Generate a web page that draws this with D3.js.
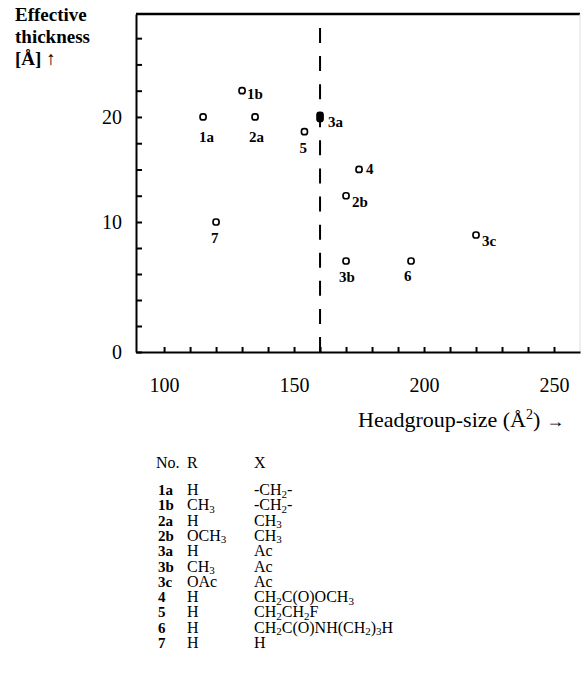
<!DOCTYPE html>
<html>
<head>
<meta charset="utf-8">
<script src="https://cdn.jsdelivr.net/npm/d3@7"></script>
<style>
  body { margin: 0; background: #fff; }
  text { font-family: 'Liberation Serif', 'Times New Roman', serif; fill: #000; }
</style>
</head>
<body>
<script>
// compounds plotted (id, headgroup size in A^2, effective thickness in A)
const pointIds = ['1a', '1b', '2a', '2b', '3a', '3b', '3c', '4', '5', '6', '7'];
const headgroupSize = [115, 130, 135, 170, 160, 170, 220, 175, 154, 195, 120];
const thickness = [20, 22.5, 20, 12.5, 20, 7, 9, 15, 18.6, 7, 10];

// axis ticks
const xTickLabels = [100, 150, 200, 250];
const xMinorTicks = [100, 110, 120, 130, 140, 150, 160, 170, 180, 190, 200, 210, 220, 230, 240, 250];
const yTickLabels = [0, 10, 20];
const yMinorTicks = [0, 2, 4, 6, 8, 10, 12.5, 15, 17.5, 20, 22.5, 25, 27.5];
const criticalSize = 160;

// table below the chart ('_x' = subscript x)
const compoundNo = ['1a', '1b', '2a', '2b', '3a', '3b', '3c', '4', '5', '6', '7'];
const groupR = ['H', 'CH_3', 'H', 'OCH_3', 'H', 'CH_3', 'OAc', 'H', 'H', 'H', 'H'];
const groupX = ['-CH_2-', '-CH_2-', 'CH_3', 'CH_3', 'Ac', 'Ac', 'Ac',
                'CH_2C(O)OCH_3', 'CH_2CH_2F', 'CH_2C(O)NH(CH_2)_3H', 'H'];

const data = pointIds.map((id, i) => ({id, x: headgroupSize[i], y: thickness[i]}));

const svg = d3.select('body')
              .append('svg')
              .attr('width', 582)
              .attr('height', 700);

const plotLeft = 136, plotRight = 580, plotTop = 14, plotBottom = 352;

const x = d3.scaleLinear()
            .domain([89.2, 260])
            .range([plotLeft, plotRight]);

// the original axis is stretched below 10
const y = d3.scaleLinear()
            .domain([0, 10, 29.8])
            .range([plotBottom, 222, plotTop]);

// top frame + faint right edge
svg.append('line')
    .attr('x1', plotLeft).attr('x2', plotRight)
    .attr('y1', plotTop).attr('y2', plotTop)
    .attr('stroke', '#000').attr('stroke-width', 2.5);
svg.append('line')
    .attr('x1', plotRight).attr('x2', plotRight)
    .attr('y1', plotTop).attr('y2', plotBottom)
    .attr('stroke', '#ddd').attr('stroke-width', 1);

// axes
const xAxis = d3.axisBottom(x)
                .tickValues(xMinorTicks)
                .tickSizeInner(-5)
                .tickSizeOuter(0)
                .tickPadding(26)
                .tickFormat(d => xTickLabels.includes(d) ? d : '');
const yAxis = d3.axisLeft(y)
                .tickValues(yMinorTicks)
                .tickSizeInner(-6)
                .tickSizeOuter(0)
                .tickPadding(14)
                .tickFormat(d => yTickLabels.includes(d) ? d : '');

const xAxisGroup = svg.append('g')
                      .attr('transform', `translate(0, ${plotBottom})`)
                      .call(xAxis);
const yAxisGroup = svg.append('g')
                      .attr('transform', `translate(${plotLeft}, 0)`)
                      .call(yAxis);

[xAxisGroup, yAxisGroup].forEach(g => {
    g.select('.domain').attr('stroke-width', 2);
    g.selectAll('.tick line').attr('stroke-width', 2);
    g.selectAll('text')
        .attr('font-family', "'Liberation Serif', 'Times New Roman', serif")
        .attr('font-size', 20);
});

// dashed line at the critical headgroup size (dash at both ends)
svg.append('line')
    .attr('x1', x(criticalSize)).attr('x2', x(criticalSize))
    .attr('y1', 28).attr('y2', plotBottom)
    .attr('stroke', '#000')
    .attr('stroke-width', 2)
    .attr('stroke-dasharray', '15,13.09');

// points
svg.selectAll('rect.pt')
    .data(data)
    .enter()
    .append('rect')
    .attr('class', 'pt')
    .attr('x', d => x(d.x) - 3)
    .attr('y', d => y(d.y) - (d.x === criticalSize ? 4.5 : 3))
    .attr('width', 6)
    .attr('height', d => d.x === criticalSize ? 9 : 6)
    .attr('rx', 2.5)
    .attr('fill', d => d.x === criticalSize ? '#000' : '#fff')
    .attr('stroke', '#000')
    .attr('stroke-width', 1.7);

// point labels
const labelOffset = {
    '1a': [-4, 25], '1b': [5, 8], '2a': [-6, 25], '2b': [6, 11], '3a': [8, 10],
    '3b': [-7, 21], '3c': [6, 11], '4': [7, 5], '5': [-5, 21], '6': [-7, 20], '7': [-5, 21]
};
svg.selectAll('text.lbl')
    .data(data)
    .enter()
    .append('text')
    .attr('class', 'lbl')
    .attr('x', d => x(d.x) + labelOffset[d.id][0])
    .attr('y', d => y(d.y) + labelOffset[d.id][1])
    .attr('font-size', 15)
    .attr('font-weight', 'bold')
    .text(d => d.id);

// axis titles
const yTitle = svg.append('text')
                  .attr('font-size', 19)
                  .attr('font-weight', 'bold');
['Effective', 'thickness', '[Å] ↑'].forEach((t, i) => {
    yTitle.append('tspan').attr('x', 15).attr('y', 21 + i * 22).text(t);
});

const xTitle = svg.append('text')
                  .attr('x', 358)
                  .attr('y', 427)
                  .attr('font-size', 22);
xTitle.append('tspan').text('Headgroup-size (Å');
xTitle.append('tspan').attr('dy', -8).attr('font-size', 14).text('2');
xTitle.append('tspan').attr('dy', 8).text(')');
xTitle.append('tspan').attr('dx', 6).attr('font-size', 18).text('→');

// table
function addFormula(sel, str) {
    let sub = false;
    str.split(/(_.)/).filter(s => s).forEach(p => {
        if (p[0] === '_') {
            sel.append('tspan').attr('dy', 2.5).attr('font-size', 11).text(p[1]);
            sub = true;
        } else {
            sel.append('tspan').attr('dy', sub ? -2.5 : 0).text(p);
            sub = false;
        }
    });
}

const tableTop = 468, rowStep = 15.3, firstRow = 495;
const colNo = 156, colR = 187, colX = 254;

[['No.', colNo], ['R', colR], ['X', colX]].forEach(([t, cx]) => {
    svg.append('text').attr('x', cx).attr('y', tableTop).attr('font-size', 16).text(t);
});

compoundNo.forEach((no, i) => {
    const yy = firstRow + i * rowStep;
    svg.append('text')
        .attr('x', colNo + 2).attr('y', yy)
        .attr('font-size', 15).attr('font-weight', 'bold')
        .text(no);
    addFormula(svg.append('text').attr('x', colR).attr('y', yy).attr('font-size', 16), groupR[i]);
    addFormula(svg.append('text').attr('x', colX).attr('y', yy).attr('font-size', 16), groupX[i]);
});
</script>
</body>
</html>
